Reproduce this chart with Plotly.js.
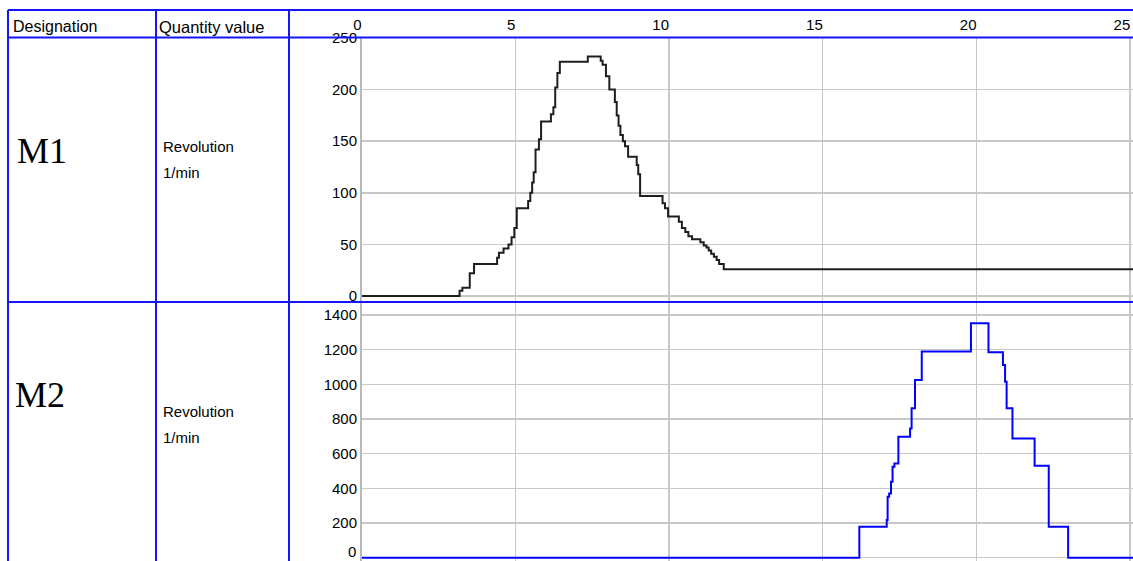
<!DOCTYPE html>
<html>
<head>
<meta charset="utf-8">
<script src="https://cdn.plot.ly/plotly-3.0.1.min.js"></script>
<style>
  html, body { margin: 0; padding: 0; background: #fff; }
  #chart { width: 1133px; height: 561px; }
</style>
</head>
<body>
<div id="chart"></div>
<script>
// ---- Data (time axis, step starts) ----
const xTicks = [0, 5, 10, 15, 20, 25];
const m1Ticks = [0, 50, 100, 150, 200, 250];
const m2Ticks = [0, 200, 400, 600, 800, 1000, 1200, 1400];

const m1Time = [0, 3.19, 3.28, 3.52, 3.66, 4.41, 4.47, 4.62, 4.78, 4.88, 4.97, 5.05, 5.42, 5.49, 5.55,
  5.6, 5.66, 5.77, 5.84, 6.16, 6.24, 6.3, 6.37, 6.45, 7.36, 7.78, 7.84, 7.95, 8.06, 8.24,
  8.3, 8.36, 8.42, 8.5, 8.57, 8.67, 8.95, 9.0, 9.06, 9.79, 9.87, 9.97, 10.32, 10.42, 10.53,
  10.63, 10.75, 11.02, 11.13, 11.22, 11.29, 11.37, 11.46, 11.55, 11.63, 11.78, 25.2];
const m1Rev = [0, 5, 8, 22, 31, 37, 42, 46, 50, 57, 66, 85, 92, 100, 110,
  120, 142, 152, 169, 176, 183, 202, 216, 227, 232, 228, 224, 213, 200, 188,
  175, 165, 156, 150, 145, 135, 127, 118, 97, 90, 85, 77, 72, 66, 62,
  58, 55, 52, 49, 47, 44, 41, 38, 35, 31, 26, 26];

const m2Time = [0, 16.19, 17.08, 17.11, 17.16, 17.22, 17.27, 17.33, 17.46, 17.84, 17.89, 18.0, 18.22,
  19.82, 20.39, 20.86, 20.93, 20.98, 21.17, 21.89, 22.35, 22.98, 25.2];
const m2Rev = [0, 179, 217, 352, 371, 438, 525, 544, 698, 746, 862, 1025, 1190,
  1352, 1185, 1112, 1015, 862, 688, 531, 179, 0, 0];

const headers = ["Designation", "Quantity value"];
const designations = ["M1", "M2"];
const quantity = ["Revolution", "1/min"];

// ---- Layout helpers (pixel -> paper) ----
const W = 1133, H = 561;
const px = v => v / W;
const py = v => 1 - v / H;
const BLUE = '#1414ff';
const GRID = '#c8c8c8';
const tickFont = { family: 'Liberation Sans, Arial, sans-serif', size: 15, color: '#000' };

const traces = [
  { x: m1Time, y: m1Rev, xaxis: 'x', yaxis: 'y', mode: 'lines',
    line: { shape: 'hv', color: '#1e1e1e', width: 2 }, hoverinfo: 'skip' },
  { x: m2Time, y: m2Rev, xaxis: 'x', yaxis: 'y2', mode: 'lines',
    line: { shape: 'hv', color: '#0000ff', width: 2 }, hoverinfo: 'skip' }
];

function hLine(y, x0, x1) {
  return { type: 'line', xref: 'paper', yref: 'paper', x0: px(x0), x1: px(x1), y0: py(y), y1: py(y),
    line: { color: BLUE, width: 2 }, layer: 'above' };
}
function vLine(x, y0, y1) {
  return { type: 'line', xref: 'paper', yref: 'paper', x0: px(x), x1: px(x), y0: py(y0), y1: py(y1),
    line: { color: BLUE, width: 2 }, layer: 'above' };
}

const shapes = [
  hLine(10, 8, W), hLine(37.5, 8, W), hLine(302, 8, W),
  vLine(8, 10, H), vLine(156, 10, H), vLine(289, 10, H)
];

const sans = 'Liberation Sans, Arial, sans-serif';
const serif = 'Liberation Serif, Times New Roman, serif';
function label(text, x, y, size, family) {
  return { text: text, xref: 'paper', yref: 'paper', x: px(x), y: py(y), xanchor: 'left', yanchor: 'middle',
    showarrow: false, font: { family: family, size: size, color: '#000' } };
}
// lowest M2 tick label: lifted a little so it stays inside the picture, as in the reference
const m2Lowest = m2Ticks[0];
const annotations = [
  label(headers[0], 11, 27, 16, sans),
  label(headers[1], 157, 27, 16.5, sans),
  label(designations[0], 15, 151, 36, serif),
  label(designations[1], 13, 395, 36, serif),
  label(quantity[0], 161, 146, 15, sans),
  label(quantity[1], 161, 172, 15, sans),
  label(quantity[0], 161, 411, 15, sans),
  label(quantity[1], 161, 437, 15, sans),
  { text: String(m2Lowest), xref: 'paper', yref: 'y2', x: px(358), y: m2Lowest,
    xanchor: 'right', yanchor: 'middle', yshift: 6, showarrow: false, font: tickFont }
];

const layout = {
  width: W, height: H,
  margin: { l: 0, r: 0, t: 0, b: 0, pad: 0 },
  paper_bgcolor: '#fff', plot_bgcolor: '#fff',
  showlegend: false,
  xaxis: {
    domain: [px(361.5), 1], range: [0, 25.09], anchor: 'y', side: 'top',
    tickvals: xTicks, ticktext: xTicks.map(String), ticklabelposition: 'outside left',
    ticks: '', showgrid: true, gridcolor: GRID, gridwidth: 1.5, zeroline: false, showline: false,
    tickfont: tickFont, ticklabelstandoff: 4, ticklabeloverflow: 'allow', automargin: false, fixedrange: true
  },
  yaxis: {
    domain: [py(302), py(38)], range: [-5.8, 250], anchor: 'x',
    tickvals: m1Ticks, ticktext: m1Ticks.map(String),
    ticks: '', showgrid: true, gridcolor: GRID, gridwidth: 1.5, zeroline: false,
    showline: true, linecolor: '#b8b8b8', linewidth: 1.5, ticklabeloverflow: 'allow',
    tickfont: tickFont, automargin: false, fixedrange: true
  },
  yaxis2: {
    domain: [0, py(302)], range: [-19, 1475], anchor: 'x',
    tickvals: m2Ticks, ticktext: m2Ticks.map(v => v > 0 ? String(v) : ''),
    ticks: '', showgrid: true, gridcolor: GRID, gridwidth: 1.5, zeroline: false,
    showline: true, linecolor: '#b8b8b8', linewidth: 1.5, ticklabeloverflow: 'allow',
    tickfont: tickFont, automargin: false, fixedrange: true
  },
  shapes: shapes,
  annotations: annotations
};

Plotly.newPlot('chart', traces, layout, { displayModeBar: false, staticPlot: true });
</script>
</body>
</html>
